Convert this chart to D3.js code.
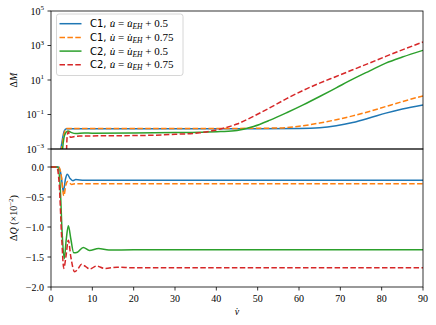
<!DOCTYPE html>
<html>
<head>
<meta charset="utf-8">
<script src="https://d3js.org/d3.v7.min.js"></script>
<style>
body { margin: 0; background: #fff; }
text { font-family: "Liberation Serif", serif; fill: #000; }
</style>
</head>
<body>
<div id="chart"></div>
<script>

// ---- data ----
var xTicks = [0, 10, 20, 30, 40, 50, 60, 70, 80, 90];
var mTicks = [-3, -1, 1, 3, 5];          // exponents of 10
var qTicks = [0.0, -0.5, -1.0, -1.5, -2.0];

// Delta M (top panel, log)
var c1aV = [0, 1.7, 2.2, 2.7, 3.2, 3.7, 5, 10, 20, 30, 40, 50, 60, 65, 69, 73, 77, 81, 85, 90];
var c1aM = [1e-5, 1e-5, 4e-4, 3e-3, 1.1e-2, 1.5e-2, 1.5e-2, 1.5e-2, 1.5e-2, 1.5e-2, 1.5e-2, 1.5e-2, 1.55e-2, 1.7e-2, 2.2e-2, 3.4e-2, 6.2e-2, 0.12, 0.21, 0.36];
var c1bV = [0, 1.8, 2.3, 2.8, 3.3, 3.8, 5, 10, 20, 30, 40, 50, 55, 60, 65, 69, 73, 77, 81, 85, 90];
var c1bM = [1e-5, 1e-5, 3e-4, 2.5e-3, 1e-2, 1.55e-2, 1.55e-2, 1.55e-2, 1.55e-2, 1.55e-2, 1.55e-2, 1.6e-2, 1.65e-2, 2.1e-2, 3.2e-2, 5e-2, 8.3e-2, 0.15, 0.29, 0.56, 1.2];
var c2aV = [0, 2.3, 2.7, 3.1, 3.6, 4.1, 5, 6, 8, 10, 20, 30, 36, 41, 45, 49, 53, 57, 61, 65, 69, 73, 77, 81, 85, 90];
var c2aM = [1e-5, 1e-5, 5e-4, 4e-3, 8.9e-3, 1.12e-2, 8.9e-3, 7.9e-3, 8.5e-3, 8.3e-3, 8.5e-3, 8.9e-3, 9.3e-3, 1.02e-2, 1.2e-2, 2e-2, 4.7e-2, 0.126, 0.36, 1.1, 3.5, 11.2, 33, 95, 214, 525];
var c2bV = [0, 3.5, 3.7, 3.9, 4.2, 4.7, 5.5, 7, 10, 20, 25, 30, 36, 41, 45, 49, 53, 57, 61, 65, 69, 73, 77, 81, 85, 90];
var c2bM = [1e-5, 1e-5, 3.2e-4, 5e-3, 1e-2, 4.8e-3, 5.2e-3, 5.6e-3, 5.75e-3, 6e-3, 6.3e-3, 7.1e-3, 8.7e-3, 1.45e-2, 2.8e-2, 7.9e-2, 0.25, 0.83, 2.5, 6.6, 16, 39, 95, 234, 560, 1585];

// Delta Q x 10^-2 (bottom panel)
var c1aQv = [0, 1.8, 2.4, 3.0, 3.5, 3.95, 4.6, 5.3, 6, 8, 10, 20, 90];
var c1aQ = [0, 0, -0.12, -0.41, -0.2, -0.12, -0.19, -0.23, -0.21, -0.22, -0.22, -0.22, -0.22];
var c1bQv = [0, 1.9, 2.5, 3.1, 3.6, 4.0, 5, 6, 8, 10, 20, 90];
var c1bQ = [0, 0, -0.15, -0.48, -0.3, -0.24, -0.29, -0.28, -0.28, -0.28, -0.28, -0.28];
var c2aQv = [0, 1.6, 2.2, 2.7, 3.2, 3.7, 4.2, 4.8, 5.5, 6.4, 7.8, 9.3, 11.5, 14, 20, 90];
var c2aQ = [0, 0, -0.3, -1.1, -1.53, -1.2, -0.98, -1.2, -1.43, -1.42, -1.34, -1.39, -1.36, -1.385, -1.38, -1.38];
var c2bQv = [0, 1.4, 2.0, 2.6, 3.1, 3.6, 4.2, 4.8, 5.7, 6.5, 7.4, 8.4, 9.4, 11, 13, 16, 20, 90];
var c2bQ = [0, 0, -0.3, -1.2, -1.69, -1.5, -1.22, -1.5, -1.745, -1.7, -1.62, -1.66, -1.7, -1.65, -1.69, -1.67, -1.68, -1.68];

var names = ["C1", "C1", "C2", "C2"];
var offsets = ["0.5", "0.75", "0.5", "0.75"];
var colors = ["#1f77b4", "#ff7f0e", "#2ca02c", "#d62728"];
var dashes = [null, "5.5,2.4", null, "5.5,2.4"];

var series = [
  {v: c1aV, m: c1aM, qv: c1aQv, q: c1aQ},
  {v: c1bV, m: c1bM, qv: c1bQv, q: c1bQ},
  {v: c2aV, m: c2aM, qv: c2aQv, q: c2aQ},
  {v: c2bV, m: c2bM, qv: c2bQv, q: c2bQ}
];

// ---- layout ----
var width = 436, height = 325;
var left = 51, right = 423;
var top1 = 11, bot1 = 149, top2 = 149, bot2 = 287;

var svg = d3.select("#chart").append("svg")
  .attr("width", width)
  .attr("height", height);

var x = d3.scaleLinear().domain([0, 90]).range([left, right]);
var yM = d3.scaleLog().domain([1e-3, 1e5]).range([bot1, top1]);
var yQ = d3.scaleLinear().domain([-2.0, 0.3]).range([bot2, top2]);

var defs = svg.append("defs");
defs.append("clipPath").attr("id", "clipTop").append("rect")
  .attr("x", left).attr("y", top1).attr("width", right - left).attr("height", bot1 - top1);
defs.append("clipPath").attr("id", "clipBot").append("rect")
  .attr("x", left).attr("y", top2).attr("width", right - left).attr("height", bot2 - top2);

// top panel lines
var gTop = svg.append("g").attr("clip-path", "url(#clipTop)");
series.forEach(function(s, i) {
  var pts = s.v.map(function(v, j) { return [v, s.m[j]]; });
  gTop.append("path")
    .attr("d", d3.line().curve(d3.curveMonotoneX)
      .x(function(d) { return x(d[0]); })
      .y(function(d) { return yM(d[1]); })(pts))
    .attr("fill", "none")
    .attr("stroke", colors[i])
    .attr("stroke-width", 1.5)
    .attr("stroke-dasharray", dashes[i]);
});

// bottom panel lines
var gBot = svg.append("g").attr("clip-path", "url(#clipBot)");
series.forEach(function(s, i) {
  var pts = s.qv.map(function(v, j) { return [v, s.q[j]]; });
  gBot.append("path")
    .attr("d", d3.line().curve(d3.curveMonotoneX)
      .x(function(d) { return x(d[0]); })
      .y(function(d) { return yQ(d[1]); })(pts))
    .attr("fill", "none")
    .attr("stroke", colors[i])
    .attr("stroke-width", 1.5)
    .attr("stroke-dasharray", dashes[i]);
});

// frames
[[top1, bot1], [top2, bot2]].forEach(function(p) {
  svg.append("rect")
    .attr("x", left).attr("y", p[0])
    .attr("width", right - left).attr("height", p[1] - p[0])
    .attr("fill", "none").attr("stroke", "#000").attr("stroke-width", 0.8);
});

// y ticks top (log)
mTicks.forEach(function(e) {
  var yy = yM(Math.pow(10, e));
  svg.append("line").attr("x1", left - 3.5).attr("x2", left).attr("y1", yy).attr("y2", yy)
    .attr("stroke", "#000").attr("stroke-width", 0.8);
  var t = svg.append("text").attr("x", left - 7).attr("y", yy + 3.5)
    .attr("text-anchor", "end").style("font-size", "10px");
  t.append("tspan").text("10");
  t.append("tspan").attr("dy", -4.5).style("font-size", "7px")
    .text(e < 0 ? "\u2212" + (-e) : String(e));
});

// y ticks bottom
qTicks.forEach(function(q) {
  var yy = yQ(q);
  svg.append("line").attr("x1", left - 3.5).attr("x2", left).attr("y1", yy).attr("y2", yy)
    .attr("stroke", "#000").attr("stroke-width", 0.8);
  svg.append("text").attr("x", left - 7).attr("y", yy + 3.5)
    .attr("text-anchor", "end").style("font-size", "10px")
    .text(q === 0 ? "0.0" : "\u2212" + Math.abs(q).toFixed(1));
});

// x ticks
xTicks.forEach(function(v) {
  var xx = x(v);
  svg.append("line").attr("x1", xx).attr("x2", xx).attr("y1", bot2).attr("y2", bot2 + 3.5)
    .attr("stroke", "#000").attr("stroke-width", 0.8);
  svg.append("text").attr("x", xx).attr("y", bot2 + 14.5)
    .attr("text-anchor", "middle").style("font-size", "10px")
    .text(v);
});

// axis labels
var lm = svg.append("text")
  .attr("transform", "translate(17," + ((top1 + bot1) / 2) + ") rotate(-90)")
  .attr("text-anchor", "middle").style("font-size", "10px");
lm.append("tspan").text("\u0394");
lm.append("tspan").style("font-style", "italic").text("M");

var lq = svg.append("text")
  .attr("transform", "translate(17," + ((top2 + bot2) / 2) + ") rotate(-90)")
  .attr("text-anchor", "middle").style("font-size", "10px");
lq.append("tspan").text("\u0394");
lq.append("tspan").style("font-style", "italic").text("Q");
lq.append("tspan").text(" (\u00d710");
lq.append("tspan").attr("dy", -4.5).style("font-size", "7px").text("\u22122");
lq.append("tspan").attr("dy", 4.5).text(")");

svg.append("text").attr("x", x(45)).attr("y", 315)
  .attr("text-anchor", "middle").style("font-size", "10px").style("font-style", "italic")
  .text("v\u0307");

// legend
var lg = svg.append("g");
lg.append("rect").attr("x", 56.5).attr("y", 14).attr("width", 126.5).attr("height", 61.5)
  .attr("rx", 2.5).attr("fill", "#fff").attr("fill-opacity", 0.8)
  .attr("stroke", "#cccccc").attr("stroke-width", 0.8);
names.forEach(function(n, i) {
  var yy = 23.7 + i * 13.7;
  lg.append("line").attr("x1", 59.5).attr("x2", 81.5).attr("y1", yy).attr("y2", yy)
    .attr("stroke", colors[i]).attr("stroke-width", 1.5)
    .attr("stroke-dasharray", dashes[i]);
  var t = lg.append("text").attr("x", 90).attr("y", yy + 3.6).style("font-size", "11px");
  t.append("tspan").style("font-family", "DejaVu Sans").style("font-size", "10px").text(n + ", ");
  t.append("tspan").style("font-style", "italic").text("u\u0307");
  t.append("tspan").text(" = ");
  t.append("tspan").style("font-style", "italic").text("u\u0307");
  t.append("tspan").attr("dy", 2).style("font-style", "italic").style("font-size", "7.5px").text("EH");
  t.append("tspan").attr("dy", -2).text(" + " + offsets[i]);
});

</script>
</body>
</html>
